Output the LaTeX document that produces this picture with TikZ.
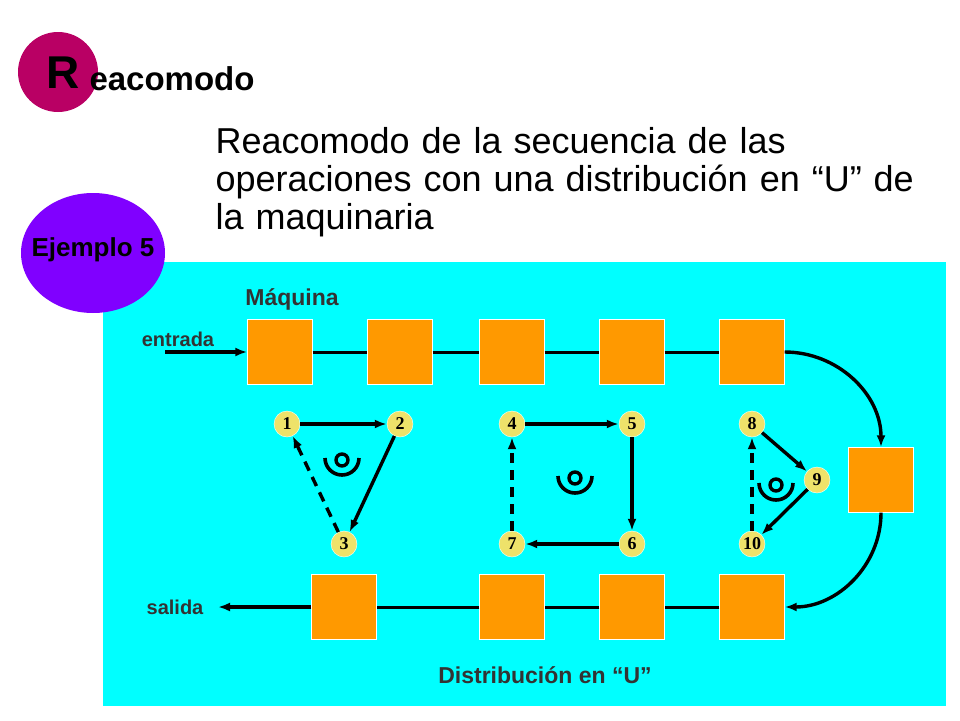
\documentclass[tikz,border=0pt]{standalone}
\usepackage{fontspec}
\setmainfont{Liberation Sans}
\newfontfamily\numfont{Liberation Serif}
\usetikzlibrary{arrows.meta,calc}
\definecolor{fondo}{RGB}{0,255,255}
\definecolor{maq}{RGB}{255,153,0}
\definecolor{amar}{RGB}{238,226,106}
\definecolor{magen}{RGB}{185,0,100}
\definecolor{purp}{RGB}{128,0,255}
\tikzset{
  maquina/.style={draw=white,fill=maq,minimum size=65pt,inner sep=0pt},
  paso/.style={circle,fill=amar,draw=white,minimum size=26pt,inner sep=0pt,font=\fontsize{18}{18}\bfseries\numfont},
  flecha/.style={-{Latex[length=12pt,width=9pt]},line width=3.4pt},
  trazos/.style={dash pattern=on 10pt off 7pt},
  linea/.style={line width=3pt},
  etiq/.style={font=\fontsize{20}{20}\bfseries,text=black!80}
}
\newcommand{\operario}[1]{%
  \draw[line width=3.6pt] ($(#1)+(-17,0)$) arc[start angle=180,end angle=0,radius=17];
  \draw[line width=3.4pt] ($(#1)+(0,2)$) circle[radius=6];}
\begin{document}
\begin{tikzpicture}[x=1pt,y=-1pt]
        \useasboundingbox (0,0) rectangle (960,720);
        \fill[fondo] (103,262) rectangle (946,706);

        % Titulo
        \fill[magen] (58,72) circle[radius=40];
        \node[font=\fontsize{46}{46}\bfseries] (R) at (63,73) {R};
        \node[font=\fontsize{33}{33}\bfseries,anchor=west] (tit) at (86,79) {eacomodo};
        \node[anchor=north west,align=left,font=\fontsize{36}{38}\selectfont,text width=760pt] (desc) at (212,124)
          {Reacomodo de la secuencia de las\\operaciones con una distribución en “U” de\\la maquinaria};
        \fill[purp] (93,253) ellipse[x radius=72,y radius=60];
        \node[font=\fontsize{26}{26}\bfseries] (ej) at (93,250) {Ejemplo 5};

        % Maquinas
        \foreach \n/\x in {a/280,b/400,c/512,d/632,e/752}
          \node[maquina] (\n) at (\x,352) {};
        \node[maquina] (f) at (881,480) {};
        \foreach \n/\x in {g/344,h/512,i/632,j/752}
          \node[maquina] (\n) at (\x,607) {};
        \coordinate (ent) at (165,352);
        \coordinate (sal) at (218,607);
        \node[etiq,anchor=south,font=\fontsize{23}{23}\bfseries] (maqt) at (292,314) {Máquina};
        \node[etiq,anchor=south,font=\fontsize{20}{20}\bfseries] at (178,350) {entrada};
        \node[etiq,font=\fontsize{20}{20}\bfseries] at (175,607) {salida};
        \node[etiq,font=\fontsize{23}{23}\bfseries] (dist) at (545,675) {Distribución en “U”};

        \draw[flecha] (ent) -- (a);
        \draw[linea] (a) -- (b) (b) -- (c) (c) -- (d) (d) -- (e);
        \draw[flecha] (e.east) to[out=0,in=90] (f.north);
        \draw[flecha] (f.south) to[out=270,in=0] (j.east);
        \draw[linea] (j) -- (i) (i) -- (h) (h) -- (g);
        \draw[flecha] (g) -- (sal);

        % Secuencia
        \foreach \n/\x/\y in {1/287/424,2/400/424,3/344/544,4/512/424,5/632/424,6/632/544,7/512/544,8/752/424,9/817/480,10/752/544}
          \node[paso] (p\n) at (\x,\y) {\n};
        \draw[flecha] (p1) -- (p2);
        \draw[flecha] (p2) -- (p3);
        \draw[flecha,trazos] (p3) -- (p1);
        \draw[flecha] (p4) -- (p5);
        \draw[flecha] (p5) -- (p6);
        \draw[flecha] (p6) -- (p7);
        \draw[flecha,trazos] (p7) -- (p4);
        \draw[flecha] (p8) -- (p9);
        \draw[flecha] (p9) -- (p10);
        \draw[flecha,trazos] (p10) -- (p8);
        \operario{342,458}
        \operario{575,476}
        \operario{776,483}
\end{tikzpicture}
\end{document}
